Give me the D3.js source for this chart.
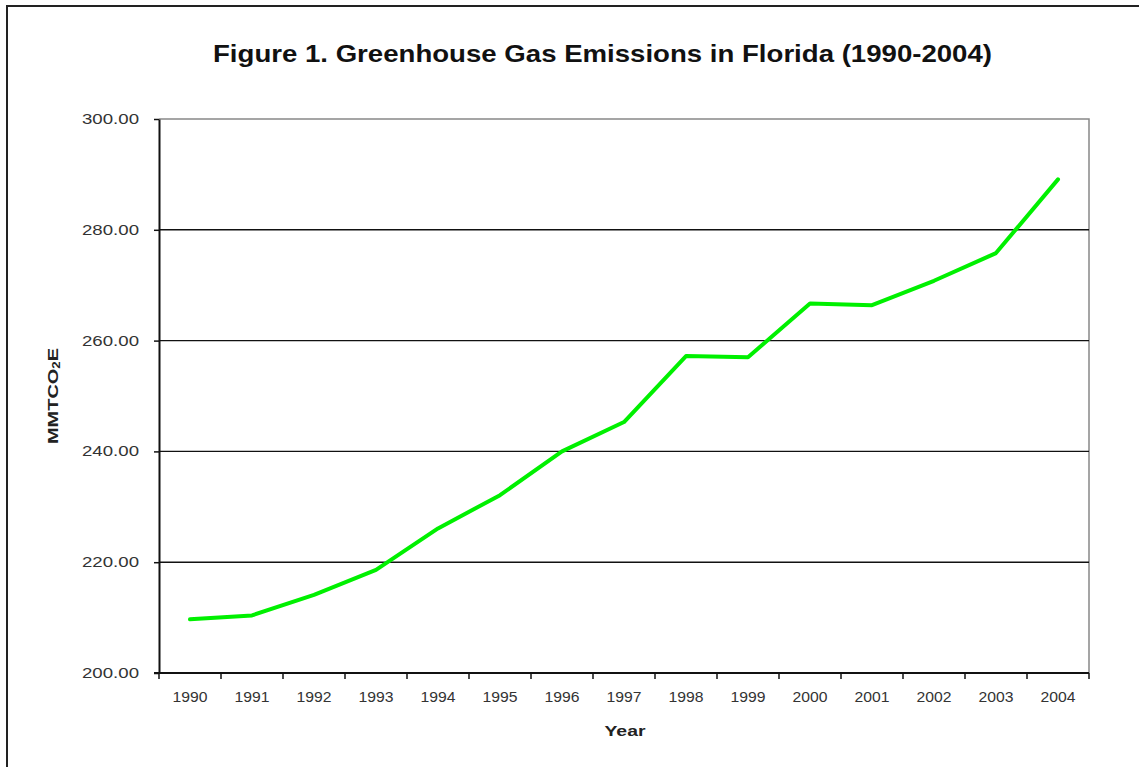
<!DOCTYPE html>
<html>
<head>
<meta charset="utf-8">
<script src="https://cdn.jsdelivr.net/npm/d3@7"></script>
<style>
  html, body { margin: 0; padding: 0; background: #fff; }
  svg { display: block; }
  text { font-family: "Liberation Sans", Arial, sans-serif; }
</style>
</head>
<body>
<svg id="chart" width="1139" height="767"></svg>
<script>
// Florida greenhouse gas emissions, million metric tons CO2 equivalent
const years = ["1990", "1991", "1992", "1993", "1994", "1995", "1996", "1997",
               "1998", "1999", "2000", "2001", "2002", "2003", "2004"];
const emissions = [209.7, 210.4, 214.1, 218.6, 226.1, 232.1, 240.0, 245.3,
                   257.2, 257.0, 266.7, 266.4, 270.8, 275.8, 289.1];
const yTicks = [200, 220, 240, 260, 280, 300];
const titleText = "Figure 1. Greenhouse Gas Emissions in Florida (1990-2004)";

const svg = d3.select("#chart");
const W = 1139, H = 767;
const margin = { left: 159, right: 50, top: 119, bottom: 94 };

// outer frame
svg.append("rect")
  .attr("x", 7).attr("y", 6)
  .attr("width", W).attr("height", H)
  .attr("fill", "#fff")
  .attr("stroke", "#222").attr("stroke-width", 2);

const x = d3.scaleBand()
  .domain(years)
  .range([margin.left, W - margin.right])
  .padding(0);

const y = d3.scaleLinear()
  .domain([200, 300])
  .range([H - margin.bottom, margin.top]);

const x0 = x.range()[0], x1 = x.range()[1];
const yB = y(200), yT = y(300);

// plot frame: top and right edges in grey
svg.append("path")
  .attr("d", `M${x0},${yT}H${x1}V${yB}`)
  .attr("fill", "none")
  .attr("stroke", "#888").attr("stroke-width", 1.5);

// horizontal gridlines
svg.append("g")
  .selectAll("line")
  .data(yTicks.filter(v => v > 200 && v < 300))
  .join("line")
  .attr("x1", x0).attr("x2", x1)
  .attr("y1", d => y(d)).attr("y2", d => y(d))
  .attr("stroke", "#111").attr("stroke-width", 1.4);

// y axis
const yAxis = svg.append("g")
  .attr("transform", `translate(${x0},0)`)
  .call(d3.axisLeft(y)
    .tickValues(yTicks)
    .tickFormat(d3.format(".2f"))
    .tickSize(5)
    .tickSizeOuter(0)
    .tickPadding(15));
yAxis.select(".domain").attr("stroke", "#111").attr("stroke-width", 2);
yAxis.selectAll(".tick line").attr("stroke", "#111").attr("stroke-width", 1.5);
yAxis.selectAll(".tick text")
  .attr("font-size", 14)
  .attr("font-family", "Liberation Sans, Arial, sans-serif")
  .attr("fill", "#333")
  .attr("textLength", 57)
  .attr("lengthAdjust", "spacingAndGlyphs");

// x axis: labels centred in each category
const xAxis = svg.append("g")
  .attr("transform", `translate(0,${yB})`)
  .call(d3.axisBottom(x).tickSize(0).tickPadding(19));
xAxis.select(".domain").remove();
xAxis.selectAll(".tick text")
  .attr("font-size", 14)
  .attr("font-family", "Liberation Sans, Arial, sans-serif")
  .attr("fill", "#333")
  .attr("textLength", 35)
  .attr("lengthAdjust", "spacingAndGlyphs");

// category boundary tick marks
const boundaries = years.map(d => x(d)).concat([x1]);
svg.append("g")
  .selectAll("line")
  .data(boundaries)
  .join("line")
  .attr("x1", d => d).attr("x2", d => d)
  .attr("y1", yB).attr("y2", yB + 6)
  .attr("stroke", "#111").attr("stroke-width", 1.5);

// x axis baseline
svg.append("line")
  .attr("x1", x0 - 5).attr("x2", x1)
  .attr("y1", yB).attr("y2", yB)
  .attr("stroke", "#111").attr("stroke-width", 2);

// emissions line
const line = d3.line()
  .x((d, i) => x(years[i]) + x.bandwidth() / 2)
  .y(d => y(d));

svg.append("path")
  .datum(emissions)
  .attr("d", line)
  .attr("fill", "none")
  .attr("stroke", "#00f000")
  .attr("stroke-width", 4)
  .attr("stroke-linejoin", "round")
  .attr("stroke-linecap", "round");

// title
svg.append("text")
  .attr("x", 602.5).attr("y", 62)
  .attr("text-anchor", "middle")
  .attr("font-size", 24)
  .attr("font-weight", "bold")
  .attr("fill", "#111")
  .attr("textLength", 779)
  .attr("lengthAdjust", "spacingAndGlyphs")
  .text(titleText);

// x axis title
svg.append("text")
  .attr("x", 625).attr("y", 736)
  .attr("text-anchor", "middle")
  .attr("font-size", 15)
  .attr("font-weight", "bold")
  .attr("fill", "#222")
  .attr("textLength", 41)
  .attr("lengthAdjust", "spacingAndGlyphs")
  .text("Year");

// y axis title with subscript
const yTitle = svg.append("text")
  .attr("transform", `translate(58,${(yT + yB) / 2}) rotate(-90)`)
  .attr("text-anchor", "middle")
  .attr("font-size", 15)
  .attr("font-weight", "bold")
  .attr("fill", "#222")
  .attr("textLength", 96)
  .attr("lengthAdjust", "spacingAndGlyphs");
yTitle.append("tspan").text("MMTCO");
yTitle.append("tspan").attr("font-size", 10).attr("dy", 2).text("2");
yTitle.append("tspan").attr("dy", -2).text("E");
</script>
</body>
</html>
